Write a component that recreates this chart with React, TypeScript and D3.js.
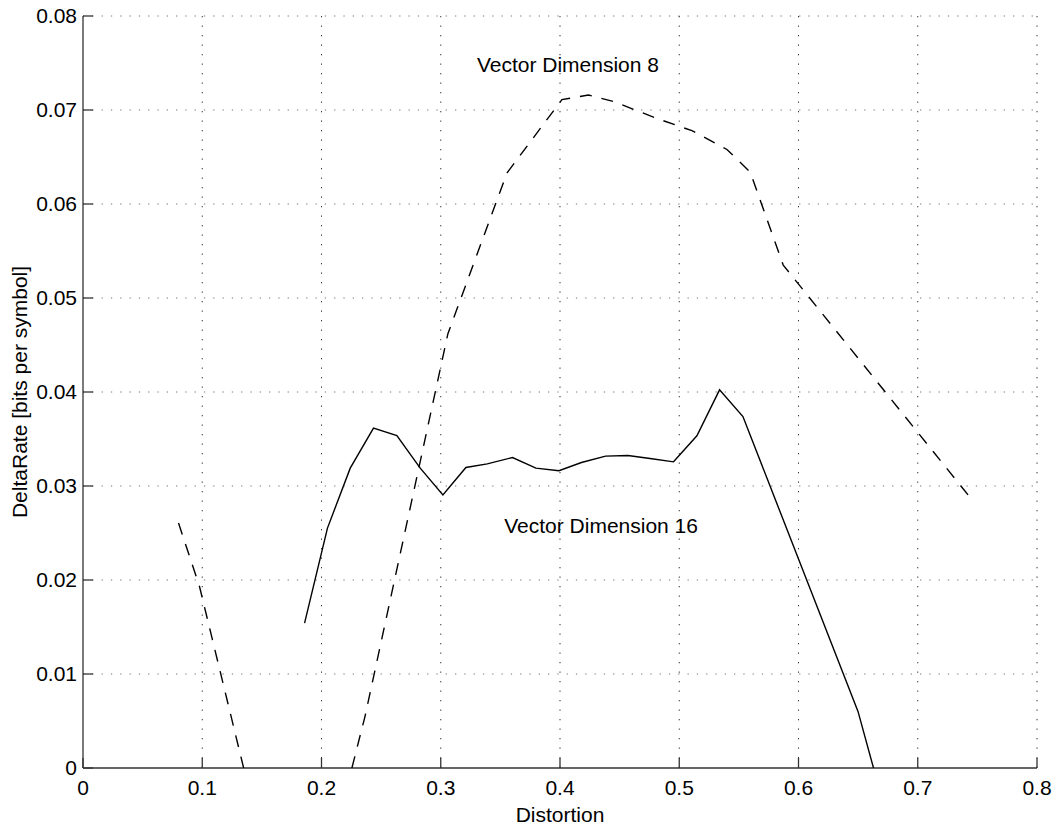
import React, { useMemo } from "react";
import * as d3 from "d3";

const WIDTH = 1058;
const HEIGHT = 826;
const FONT = "'Liberation Sans', Arial, Helvetica, sans-serif";

// axis ticks
const xTicks = [0, 0.1, 0.2, 0.3, 0.4, 0.5, 0.6, 0.7, 0.8];
const yTicks = [0, 0.01, 0.02, 0.03, 0.04, 0.05, 0.06, 0.07, 0.08];
const xTickLabels = ["0", "0.1", "0.2", "0.3", "0.4", "0.5", "0.6", "0.7", "0.8"];
const yTickLabels = ["0", "0.01", "0.02", "0.03", "0.04", "0.05", "0.06", "0.07", "0.08"];

// Vector Dimension 16 (solid)
const dim16Distortion = [
  0.1858, 0.205, 0.2241, 0.2436, 0.2632, 0.2828, 0.3018, 0.3211, 0.339, 0.3602,
  0.3798, 0.3991, 0.418, 0.4382, 0.457, 0.477, 0.4952, 0.5148, 0.5338, 0.5534,
  0.6499, 0.6629,
];
const dim16Rate = [
  0.01542, 0.02552, 0.0319, 0.03616, 0.03537, 0.0319, 0.02906, 0.03197, 0.03236, 0.03303,
  0.0319, 0.03162, 0.0325, 0.03318, 0.03324, 0.0329, 0.03257, 0.03534, 0.04023, 0.03739,
  0.00602, 0.0,
];

// Vector Dimension 8 (dashed), two visible pieces; null = break
const dim8Distortion = [
  0.0801, 0.0977, 0.1347, null,
  0.2255, 0.2365, 0.306, 0.3555, 0.4016, 0.4239, 0.4449, 0.4813, 0.5106, 0.54,
  0.5595, 0.5872, 0.7463,
];
const dim8Rate = [
  0.02606, 0.01931, 0.0, null,
  0.0, 0.0055, 0.0462, 0.0633, 0.0711, 0.0716, 0.0709, 0.0691, 0.0678, 0.0658,
  0.0634, 0.0535, 0.0284,
];

const labels = [
  { text: "Vector Dimension 8", x: 0.3303, y: 0.074 },
  { text: "Vector Dimension 16", x: 0.3532, y: 0.025 },
];

const margin = { left: 83, right: 21, top: 16, bottom: 58 };

const Chart = () => {
  const innerW = WIDTH - margin.left - margin.right;
  const innerH = HEIGHT - margin.top - margin.bottom;

  const x = useMemo(() => d3.scaleLinear().domain([0, 0.8]).range([0, innerW]), [innerW]);
  const y = useMemo(() => d3.scaleLinear().domain([0, 0.08]).range([innerH, 0]), [innerH]);

  const line = d3
    .line<[number | null, number | null]>()
    .defined((d) => d[0] !== null && d[1] !== null)
    .x((d) => x(d[0] as number))
    .y((d) => y(d[1] as number));

  const solidPts = dim16Distortion.map((d, i) => [d, dim16Rate[i]] as [number, number]);
  const dashPts = dim8Distortion.map((d, i) => [d, dim8Rate[i]] as [number | null, number | null]);

  return (
    <svg
      width={WIDTH}
      height={HEIGHT}
      style={{ position: "absolute", left: 0, top: 0, background: "#fff" }}
      fontFamily={FONT}
    >
      <defs>
        <clipPath id="plot-clip">
          <rect x={0} y={0} width={innerW} height={innerH} />
        </clipPath>
      </defs>
      <g transform={`translate(${margin.left},${margin.top})`}>
        {/* grid */}
        {yTicks.slice(1).map((t) => (
          <line
            key={"gy" + t}
            x1={0}
            x2={innerW}
            y1={y(t)}
            y2={y(t)}
            stroke="#777"
            strokeWidth={1}
            strokeDasharray="1.3,8"
          />
        ))}
        {xTicks.slice(1).map((t) => (
          <line
            key={"gx" + t}
            x1={x(t)}
            x2={x(t)}
            y1={0}
            y2={innerH}
            stroke="#333"
            strokeWidth={1}
            strokeDasharray="1.3,8.2"
          />
        ))}

        {/* axes */}
        <line x1={0} x2={0} y1={0} y2={innerH} stroke="#333" strokeWidth={1.3} />
        <line x1={0} x2={innerW} y1={innerH} y2={innerH} stroke="#333" strokeWidth={1.3} />
        {yTicks.map((t, i) => (
          <g key={"ty" + t}>
            <line x1={0} x2={10} y1={y(t)} y2={y(t)} stroke="#333" strokeWidth={1.3} />
            <text
              x={-6}
              y={y(t)}
              dy="0.35em"
              textAnchor="end"
              fontSize={21}
              fill="#000"
            >
              {yTickLabels[i]}
            </text>
          </g>
        ))}
        {xTicks.map((t, i) => (
          <g key={"tx" + t}>
            <line x1={x(t)} x2={x(t)} y1={innerH} y2={innerH - 10} stroke="#333" strokeWidth={1.3} />
            <text x={x(t)} y={innerH + 27} textAnchor="middle" fontSize={21} fill="#000">
              {xTickLabels[i]}
            </text>
          </g>
        ))}

        {/* series */}
        <g clipPath="url(#plot-clip)">
          <path d={line(solidPts) ?? ""} fill="none" stroke="#000" strokeWidth={1.4} />
          <path
            d={line(dashPts) ?? ""}
            fill="none"
            stroke="#000"
            strokeWidth={1.4}
            strokeDasharray="12,10"
          />
        </g>

        {labels.map((l) => (
          <text key={l.text} x={x(l.x)} y={y(l.y)} fontSize={21} fill="#000">
            {l.text}
          </text>
        ))}

        {/* axis titles */}
        <text x={innerW / 2} y={innerH + 54} textAnchor="middle" fontSize={21} fill="#000">
          Distortion
        </text>
        <text
          transform={`translate(${27 - margin.left},${innerH / 2}) rotate(-90)`}
          textAnchor="middle"
          fontSize={21}
          fill="#000"
        >
          DeltaRate [bits per symbol]
        </text>
      </g>
    </svg>
  );
};

export default function App() {
  return <Chart />;
}
